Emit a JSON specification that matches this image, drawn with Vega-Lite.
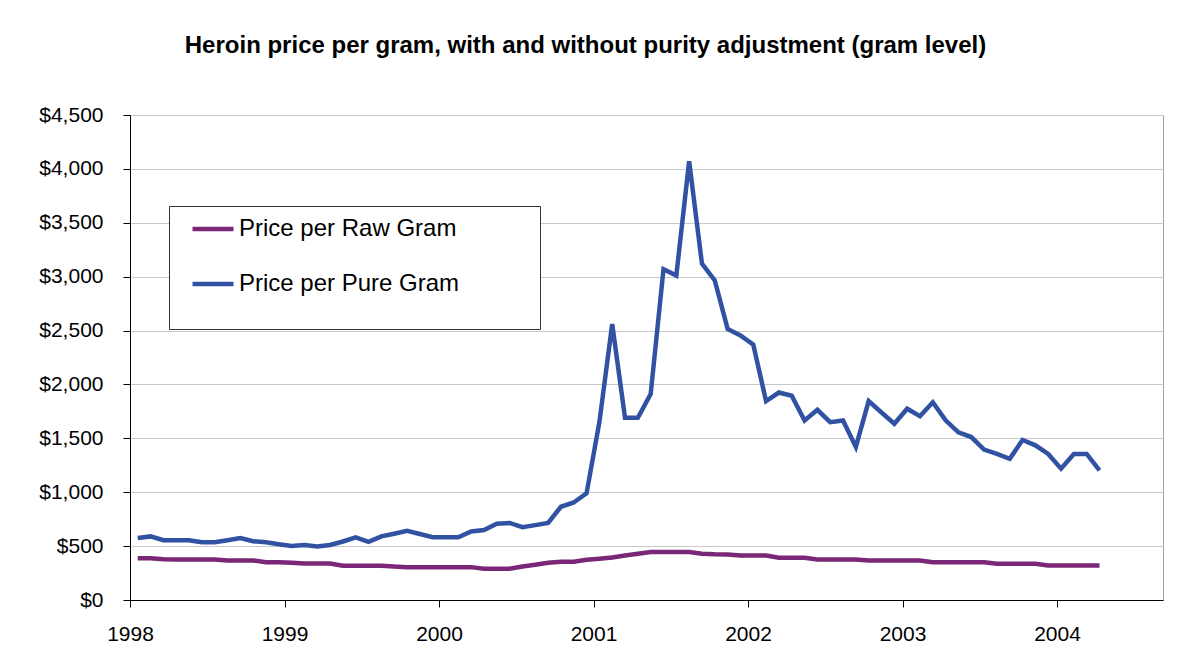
{
  "$schema": "https://vega.github.io/schema/vega-lite/v6.json",
  "width": 1033,
  "height": 485,
  "autosize": {"type": "none"},
  "padding": {"left": 130, "top": 115, "right": 32, "bottom": 72},
  "background": "white",
  "title": {
    "text": "Heroin price per gram, with and without purity adjustment (gram level)",
    "font": "Liberation Sans",
    "fontSize": 24,
    "fontWeight": "bold",
    "color": "#000000",
    "anchor": "middle",
    "frame": "group",
    "dx": -61,
    "baseline": "bottom",
    "offset": 22
  },
  "data": {
    "values": [
      {"t": 1998.050, "Price per Raw Gram": 388, "Price per Pure Gram": 575},
      {"t": 1998.133, "Price per Raw Gram": 388, "Price per Pure Gram": 590},
      {"t": 1998.216, "Price per Raw Gram": 378, "Price per Pure Gram": 555},
      {"t": 1998.299, "Price per Raw Gram": 376, "Price per Pure Gram": 555},
      {"t": 1998.382, "Price per Raw Gram": 376, "Price per Pure Gram": 555},
      {"t": 1998.465, "Price per Raw Gram": 376, "Price per Pure Gram": 535},
      {"t": 1998.548, "Price per Raw Gram": 376, "Price per Pure Gram": 535},
      {"t": 1998.631, "Price per Raw Gram": 367, "Price per Pure Gram": 555},
      {"t": 1998.714, "Price per Raw Gram": 367, "Price per Pure Gram": 575},
      {"t": 1998.797, "Price per Raw Gram": 367, "Price per Pure Gram": 545},
      {"t": 1998.880, "Price per Raw Gram": 350, "Price per Pure Gram": 535},
      {"t": 1998.963, "Price per Raw Gram": 350, "Price per Pure Gram": 518},
      {"t": 1999.046, "Price per Raw Gram": 345, "Price per Pure Gram": 502},
      {"t": 1999.129, "Price per Raw Gram": 338, "Price per Pure Gram": 510},
      {"t": 1999.212, "Price per Raw Gram": 338, "Price per Pure Gram": 496},
      {"t": 1999.295, "Price per Raw Gram": 338, "Price per Pure Gram": 510},
      {"t": 1999.378, "Price per Raw Gram": 318, "Price per Pure Gram": 543},
      {"t": 1999.461, "Price per Raw Gram": 318, "Price per Pure Gram": 582},
      {"t": 1999.544, "Price per Raw Gram": 318, "Price per Pure Gram": 540},
      {"t": 1999.627, "Price per Raw Gram": 318, "Price per Pure Gram": 590},
      {"t": 1999.710, "Price per Raw Gram": 310, "Price per Pure Gram": 615},
      {"t": 1999.793, "Price per Raw Gram": 305, "Price per Pure Gram": 642},
      {"t": 1999.876, "Price per Raw Gram": 305, "Price per Pure Gram": 612},
      {"t": 1999.959, "Price per Raw Gram": 305, "Price per Pure Gram": 582},
      {"t": 2000.042, "Price per Raw Gram": 305, "Price per Pure Gram": 582},
      {"t": 2000.125, "Price per Raw Gram": 305, "Price per Pure Gram": 582},
      {"t": 2000.208, "Price per Raw Gram": 305, "Price per Pure Gram": 636},
      {"t": 2000.291, "Price per Raw Gram": 290, "Price per Pure Gram": 650},
      {"t": 2000.374, "Price per Raw Gram": 290, "Price per Pure Gram": 708},
      {"t": 2000.457, "Price per Raw Gram": 290, "Price per Pure Gram": 715},
      {"t": 2000.540, "Price per Raw Gram": 310, "Price per Pure Gram": 675},
      {"t": 2000.623, "Price per Raw Gram": 327, "Price per Pure Gram": 695},
      {"t": 2000.706, "Price per Raw Gram": 345, "Price per Pure Gram": 715},
      {"t": 2000.789, "Price per Raw Gram": 355, "Price per Pure Gram": 865},
      {"t": 2000.872, "Price per Raw Gram": 355, "Price per Pure Gram": 905},
      {"t": 2000.955, "Price per Raw Gram": 373, "Price per Pure Gram": 990},
      {"t": 2001.038, "Price per Raw Gram": 383, "Price per Pure Gram": 1650},
      {"t": 2001.121, "Price per Raw Gram": 395, "Price per Pure Gram": 2560},
      {"t": 2001.204, "Price per Raw Gram": 413, "Price per Pure Gram": 1690},
      {"t": 2001.287, "Price per Raw Gram": 429, "Price per Pure Gram": 1690},
      {"t": 2001.370, "Price per Raw Gram": 445, "Price per Pure Gram": 1910},
      {"t": 2001.453, "Price per Raw Gram": 445, "Price per Pure Gram": 3070},
      {"t": 2001.536, "Price per Raw Gram": 445, "Price per Pure Gram": 3010},
      {"t": 2001.619, "Price per Raw Gram": 445, "Price per Pure Gram": 4070},
      {"t": 2001.702, "Price per Raw Gram": 430, "Price per Pure Gram": 3120},
      {"t": 2001.785, "Price per Raw Gram": 425, "Price per Pure Gram": 2965},
      {"t": 2001.868, "Price per Raw Gram": 423, "Price per Pure Gram": 2515},
      {"t": 2001.951, "Price per Raw Gram": 413, "Price per Pure Gram": 2455},
      {"t": 2002.034, "Price per Raw Gram": 413, "Price per Pure Gram": 2370},
      {"t": 2002.117, "Price per Raw Gram": 413, "Price per Pure Gram": 1845},
      {"t": 2002.200, "Price per Raw Gram": 392, "Price per Pure Gram": 1925},
      {"t": 2002.283, "Price per Raw Gram": 392, "Price per Pure Gram": 1895},
      {"t": 2002.366, "Price per Raw Gram": 392, "Price per Pure Gram": 1665},
      {"t": 2002.449, "Price per Raw Gram": 376, "Price per Pure Gram": 1765},
      {"t": 2002.532, "Price per Raw Gram": 376, "Price per Pure Gram": 1650},
      {"t": 2002.615, "Price per Raw Gram": 376, "Price per Pure Gram": 1665},
      {"t": 2002.698, "Price per Raw Gram": 376, "Price per Pure Gram": 1420},
      {"t": 2002.781, "Price per Raw Gram": 367, "Price per Pure Gram": 1845},
      {"t": 2002.864, "Price per Raw Gram": 367, "Price per Pure Gram": 1740},
      {"t": 2002.947, "Price per Raw Gram": 367, "Price per Pure Gram": 1635},
      {"t": 2003.030, "Price per Raw Gram": 367, "Price per Pure Gram": 1775},
      {"t": 2003.113, "Price per Raw Gram": 367, "Price per Pure Gram": 1705},
      {"t": 2003.196, "Price per Raw Gram": 351, "Price per Pure Gram": 1835},
      {"t": 2003.279, "Price per Raw Gram": 351, "Price per Pure Gram": 1667},
      {"t": 2003.362, "Price per Raw Gram": 351, "Price per Pure Gram": 1555},
      {"t": 2003.445, "Price per Raw Gram": 351, "Price per Pure Gram": 1512},
      {"t": 2003.528, "Price per Raw Gram": 351, "Price per Pure Gram": 1395},
      {"t": 2003.611, "Price per Raw Gram": 336, "Price per Pure Gram": 1355},
      {"t": 2003.694, "Price per Raw Gram": 336, "Price per Pure Gram": 1310},
      {"t": 2003.777, "Price per Raw Gram": 336, "Price per Pure Gram": 1485},
      {"t": 2003.860, "Price per Raw Gram": 336, "Price per Pure Gram": 1435},
      {"t": 2003.943, "Price per Raw Gram": 320, "Price per Pure Gram": 1355},
      {"t": 2004.026, "Price per Raw Gram": 320, "Price per Pure Gram": 1219},
      {"t": 2004.109, "Price per Raw Gram": 320, "Price per Pure Gram": 1355},
      {"t": 2004.192, "Price per Raw Gram": 320, "Price per Pure Gram": 1355},
      {"t": 2004.275, "Price per Raw Gram": 320, "Price per Pure Gram": 1203}
    ]
  },
  "transform": [
    {"fold": ["Price per Raw Gram", "Price per Pure Gram"], "as": ["series", "price"]}
  ],
  "mark": {"type": "line", "strokeWidth": 4.5},
  "encoding": {
    "x": {
      "field": "t",
      "type": "quantitative",
      "scale": {"domain": [1998, 2004.686], "nice": false, "zero": false},
      "axis": {
        "title": null,
        "values": [1998, 1999, 2000, 2001, 2002, 2003, 2004],
        "format": "d",
        "grid": false,
        "tickSize": 7,
        "tickColor": "#000000",
        "domainColor": "#000000",
        "labelColor": "#000000",
        "labelFont": "Liberation Sans",
        "labelFontSize": 21,
        "labelPadding": 16,
        "labelFlush": false
      }
    },
    "y": {
      "field": "price",
      "type": "quantitative",
      "scale": {"domain": [0, 4500], "nice": false},
      "axis": {
        "title": null,
        "values": [0, 500, 1000, 1500, 2000, 2500, 3000, 3500, 4000, 4500],
        "format": "$,.0f",
        "grid": true,
        "gridColor": "#c8c8c8",
        "tickSize": 7,
        "tickColor": "#000000",
        "domainColor": "#000000",
        "labelColor": "#000000",
        "labelFont": "Liberation Sans",
        "labelFontSize": 21,
        "labelPadding": 20
      }
    },
    "color": {
      "field": "series",
      "type": "nominal",
      "scale": {
        "domain": ["Price per Raw Gram", "Price per Pure Gram"],
        "range": ["#7B2777", "#3152A3"]
      },
      "legend": {
        "orient": "none",
        "legendX": 39,
        "legendY": 91,
        "title": " ",
        "titleOrient": "right",
        "titleAnchor": "start",
        "titleBaseline": "top",
        "titleFont": "Liberation Sans",
        "titleFontSize": 124,
        "titlePadding": 81,
        "padding": 0,
        "strokeColor": "#333333",
        "fillColor": "#ffffff",
        "symbolType": "stroke",
        "symbolSize": 1681,
        "symbolStrokeWidth": 4.5,
        "symbolOffset": 21,
        "labelOffset": 3,
        "labelFont": "Liberation Sans",
        "labelFontSize": 24,
        "labelColor": "#000000",
        "labelLimit": 600,
        "rowPadding": 20
      }
    }
  },
  "config": {
    "view": {"stroke": "#a0a0a0", "strokeWidth": 1}
  }
}
